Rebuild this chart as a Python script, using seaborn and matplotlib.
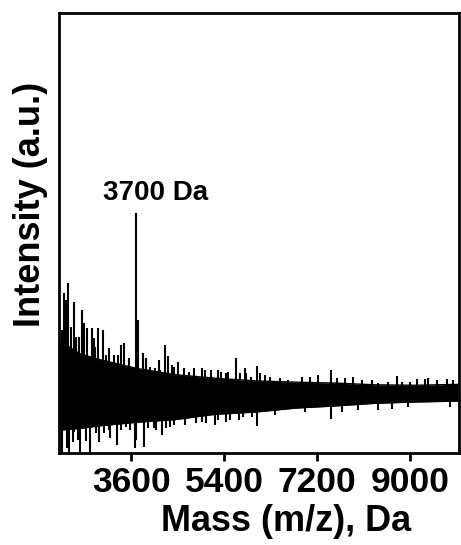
import matplotlib
matplotlib.use("Agg")
import matplotlib.pyplot as plt
import seaborn as sns
import numpy as np
import pandas as pd

# ---- data ----
# dense noise core: mass positions, upper and lower edges (a.u.)
core_mass = [2210, 2613, 3000, 3716, 4452, 5226, 6000, 6774, 7548, 8323, 9097, 9929]
core_upper = [25.5, 22.5, 21.2, 19.2, 17.8, 17.0, 16.4, 16.1, 15.9, 15.5, 15.4, 15.6]
core_lower = [5.2, 5.6, 6.2, 7.0, 7.6, 8.8, 9.3, 10.2, 10.7, 11.3, 11.6, 11.8]

# upward spikes: mass, tip intensity
up_mass = [2264, 2297, 2342, 2381, 2439, 2491, 2530, 2588, 2638, 2690, 2735, 2832,
           2878, 2903, 2961, 3052, 3110, 3168, 3265, 3335, 3393, 3459, 3555, 3639,
           3691, 3726, 3819, 3885, 3890, 3968, 4065, 4142, 4161, 4258, 4303, 4388,
           4432, 4515, 4612, 4709, 4825, 4968, 5032, 5148, 5290, 5336, 5433, 5483,
           5632, 5710, 5806, 5820, 5917, 6033, 6097, 6194, 6290, 6484, 6644, 6904,
           7065, 7225, 7465, 7581, 7742, 7903, 8065, 8259, 8387, 8580, 8743, 8839,
           9000, 9130, 9290, 9354, 9517, 9710, 9838]
up_int = [27.9, 36.4, 34.8, 38.6, 28.6, 34.3, 26.4, 26.4, 32.5, 29.5, 28.4, 28.4,
          26.1, 24.1, 28.4, 28.0, 22.3, 23.9, 22.3, 22.3, 24.5, 25.0, 21.6, 17.7,
          54.5, 30.2, 22.7, 21.6, 21.4, 19.5, 19.3, 21.1, 18.9, 24.5, 22.0, 20.0,
          19.5, 20.7, 19.3, 18.4, 19.3, 19.3, 18.9, 18.9, 18.9, 18.4, 18.2, 18.4,
          21.6, 18.2, 19.3, 18.2, 17.3, 19.8, 18.2, 17.7, 17.3, 17.0, 16.6, 17.3,
          17.3, 17.7, 18.9, 17.0, 17.0, 17.3, 16.6, 16.6, 15.9, 16.1, 17.5, 16.1,
          16.1, 16.8, 16.8, 17.0, 16.6, 16.8, 16.6]

# downward spikes: mass, tip intensity
down_mass = [2259, 2348, 2361, 2400, 2477, 2497, 2561, 2613, 2715, 2806, 2917, 2967,
             3077, 3174, 3194, 3323, 3401, 3497, 3581, 3677, 3691, 3838, 3915, 4032,
             4078, 4194, 4272, 4355, 4432, 4645, 4852, 4968, 5046, 5226, 5290, 5433,
             5516, 5690, 5774, 5948, 6029, 6387, 6968, 7461, 7678, 7994, 8387, 8646,
             8961, 9774]
down_int = [0.2, 4.5, 1.1, 0.2, 2.5, 4.8, 3.0, 0.2, 2.7, 0.2, 4.5, 2.5,
            4.5, 5.2, 3.4, 1.8, 5.2, 5.9, 5.2, 1.1, 3.0, 1.4, 5.7, 5.7,
            5.2, 4.1, 5.7, 5.9, 6.4, 6.4, 6.8, 7.0, 6.8, 6.4, 7.5, 7.0,
            7.5, 7.5, 8.2, 8.2, 6.1, 8.6, 9.3, 7.7, 9.3, 9.8, 9.8, 10.0,
            10.5, 10.5]

xticks = [3600, 5400, 7200, 9000]
peak_label = "3700 Da"

# ---- style ----
sns.set_theme(style="ticks")
plt.rcParams['font.family'] = ['Liberation Sans', 'DejaVu Sans']
plt.rcParams['font.weight'] = 'bold'
plt.rcParams['text.color'] = 'black'
plt.rcParams['axes.labelcolor'] = 'black'
plt.rcParams['xtick.color'] = 'black'

fig = plt.figure(figsize=(4.61, 5.45), dpi=100)
ax = fig.add_axes([0.128, 0.1688, 0.8666, 0.8072])

core = pd.DataFrame({"mass": core_mass, "upper": core_upper, "lower": core_lower})
ax.fill_between(core["mass"], core["lower"], core["upper"], color="black", lw=0)
sns.lineplot(data=core, x="mass", y="upper", color="black", lw=1.0, ax=ax)
sns.lineplot(data=core, x="mass", y="lower", color="black", lw=1.0, ax=ax)

center_up = np.interp(up_mass, core_mass, core_upper)
center_dn = np.interp(down_mass, core_mass, core_lower)
ax.vlines(up_mass, center_up - 2, up_int, color="black", lw=1.5)
ax.vlines(down_mass, down_int, center_dn + 2, color="black", lw=1.5)

ax.set_xlim(2200, 9940)
ax.set_ylim(0, 100)
ax.set_xticks(xticks)
ax.set_xticklabels([str(t) for t in xticks], fontsize=25.5, fontweight='bold')
ax.set_yticks([])
ax.tick_params(axis='x', direction='out', length=6, width=2, pad=3)
for s in ax.spines.values():
    s.set_linewidth(2)
    s.set_color("black")
    s.set_visible(True)

ax.set_xlabel("Mass (m/z), Da", fontsize=26, fontweight='bold')
ax.set_ylabel("Intensity (a.u.)", fontsize=26, fontweight='bold')
ax.xaxis.set_label_coords(0.568, -0.115)
ax.yaxis.set_label_coords(-0.028, 0.564)

ax.text(4074, 59.0, peak_label, fontsize=20, fontweight='bold', ha='center', va='center')

fig.savefig("out.png", dpi=100)
